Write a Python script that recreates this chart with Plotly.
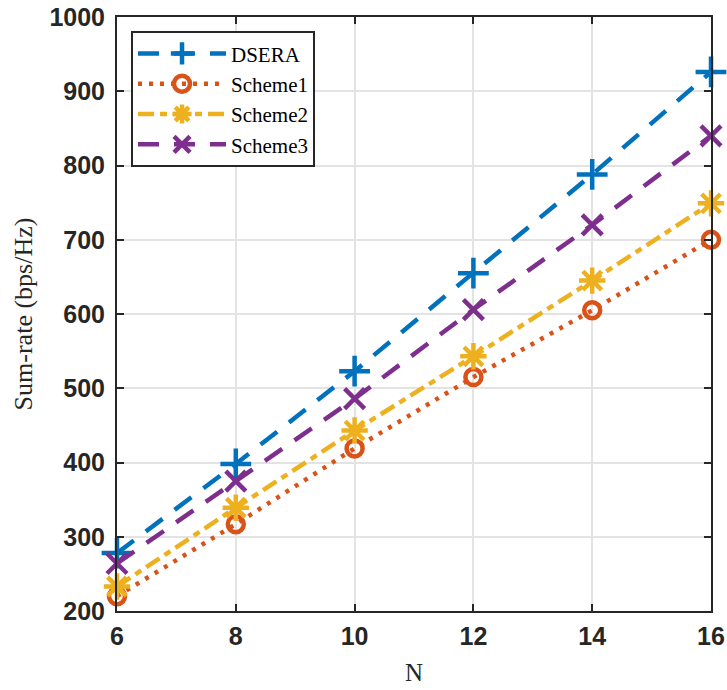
import plotly.graph_objects as go

N = [6, 8, 10, 12, 14, 16]
dsera = [278, 398, 523, 655, 788, 926]
scheme1 = [220, 317, 419, 515, 605, 700]
scheme2 = [233, 339, 443, 543, 645, 749]
scheme3 = [264, 375, 486, 606, 720, 840]

x_ticks = [6, 8, 10, 12, 14, 16]
y_ticks = [200, 300, 400, 500, 600, 700, 800, 900, 1000]

series = [
    ("DSERA", dsera, "#0072BD", "21px,15px", "cross-thin-open", 22),
    ("Scheme1", scheme1, "#D95319", "4px,7px", "circle-open", 16),
    ("Scheme2", scheme2, "#EDB120", "16px,6px,7px,6px", "asterisk-open", 22),
    ("Scheme3", scheme3, "#7E2F8E", "21px,15px", "x-thin-open", 20),
]

fig = go.Figure()
for name, vals, color, dash, sym, size in series:
    fig.add_trace(go.Scatter(
        x=N, y=vals, name=name, mode="lines+markers",
        line=dict(color=color, width=4.5, dash=dash),
        marker=dict(symbol=sym, size=size, color=color,
                    line=dict(color=color, width=4.5)),
        cliponaxis=False,
    ))

axis_common = dict(
    showline=True, linecolor="#262626", linewidth=2, mirror="ticks",
    ticks="inside", ticklen=7, tickwidth=2, tickcolor="#262626",
    showgrid=True, gridcolor="#e3e3e3", gridwidth=2, zeroline=False,
    automargin=False,
    tickfont=dict(family="Liberation Sans", size=25, color="#262626", weight="bold"),
)

fig.update_layout(
    width=727, height=690,
    margin=dict(l=117, r=16, t=17, b=79),
    paper_bgcolor="white", plot_bgcolor="white",
    xaxis=dict(range=[6, 16], tickvals=x_ticks, ticklabelstandoff=2,
               title=dict(text="N", font=dict(family="Liberation Serif", size=25, color="#262626"),
                          standoff=14),
               **axis_common),
    yaxis=dict(range=[200, 1000], tickvals=y_ticks, ticklabelstandoff=5,
               title=dict(text="Sum-rate (bps/Hz)", font=dict(family="Liberation Serif", size=26, color="#262626"),
                          standoff=9),
               **axis_common),
    legend=dict(x=0.0236, y=0.976, xanchor="left", yanchor="top",
                bgcolor="white", bordercolor="#262626", borderwidth=2,
                font=dict(family="Liberation Serif", size=21, color="black"),
                itemwidth=88, tracegroupgap=0),
    showlegend=True,
)

fig.write_html("out.html", config={"displayModeBar": False},
               post_script="document.body.style.margin='0';document.body.style.padding='0';")
